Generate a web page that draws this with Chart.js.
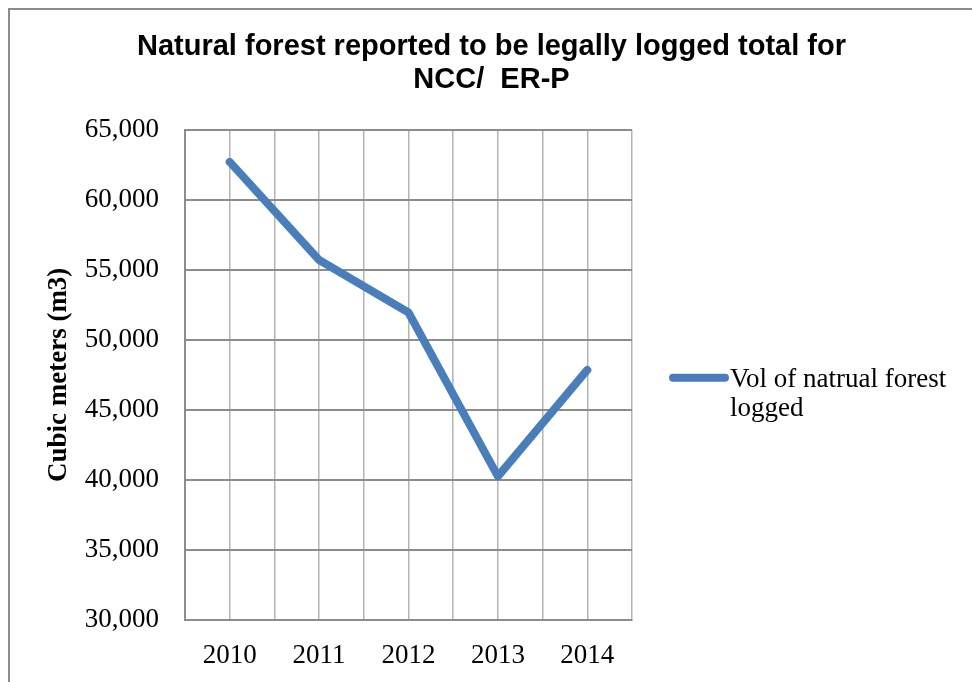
<!DOCTYPE html>
<html>
<head>
<meta charset="utf-8">
<script src="https://cdn.jsdelivr.net/npm/chart.js@4.4.1/dist/chart.umd.min.js"></script>
<style>
  html, body { margin: 0; padding: 0; background: #fff; overflow: hidden; }
  #frame {
    position: absolute; left: 8px; top: 8px;
    border-left: 2px solid #8c8c8c; border-top: 2px solid #8c8c8c;
    width: 963px; height: 672px;
  }
  #wrap { position: relative; width: 963px; height: 672px; }
</style>
</head>
<body>
<div id="frame"><div id="wrap"><canvas id="logged"></canvas></div></div>
<script>
// Natural forest logged, cubic meters per year
const years = [2010, 2011, 2012, 2013, 2014];
const volumes = [62700, 55700, 51950, 40250, 47850];
const yTicks = [30000, 35000, 40000, 45000, 50000, 55000, 60000, 65000];

const lineBlue = '#4a7ebb';
const darkGrid = '#8c8c8c';
const lightGrid = '#b4b4b4';

// legend drawn to the right of the plot, wrapping the label like Excel does
const sideLegend = {
  id: 'sideLegend',
  afterDraw(chart) {
    const ctx = chart.ctx;
    const area = chart.chartArea;
    const ds = chart.data.datasets[0];
    ctx.save();
    ctx.font = '27px "Liberation Serif"';
    // wrap the label
    const words = ds.label.split(' ');
    const lines = [];
    let cur = '';
    words.forEach(w => {
      const t = cur ? cur + ' ' + w : w;
      if (ctx.measureText(t).width > 240 && cur) { lines.push(cur); cur = w; }
      else cur = t;
    });
    if (cur) lines.push(cur);

    const x0 = area.right + 41;
    const yMid = (area.top + area.bottom) / 2 + 3;
    ctx.strokeStyle = ds.borderColor;
    ctx.lineWidth = 8;
    ctx.lineCap = 'round';
    ctx.beginPath();
    ctx.moveTo(x0, yMid);
    ctx.lineTo(x0 + 52, yMid);
    ctx.stroke();

    ctx.fillStyle = '#000';
    ctx.textBaseline = 'alphabetic';
    lines.forEach((l, i) => ctx.fillText(l, x0 + 57, yMid + 9 + i * 29));
    ctx.restore();
  }
};

new Chart('logged', {
  type: 'line',
  data: {
    datasets: [{
      label: 'Vol of natrual forest logged',
      data: years.map((y, i) => ({ x: y, y: volumes[i] })),
      borderColor: lineBlue,
      backgroundColor: lineBlue,
      borderWidth: 8,
      borderCapStyle: 'round',
      borderJoinStyle: 'round',
      pointRadius: 0,
      tension: 0
    }]
  },
  options: {
    responsive: true,
    maintainAspectRatio: false,
    animation: false,
    layout: { padding: 0 },
    plugins: {
      legend: { display: false },
      tooltip: { enabled: false },
      title: {
        display: true,
        text: ['Natural forest reported to be legally logged total for', 'NCC/  ER-P'],
        color: '#000',
        font: { family: '"Liberation Sans"', size: 29, weight: 'bold', lineHeight: 1.15 },
        padding: { top: 20, bottom: 33 }
      }
    },
    scales: {
      x: {
        type: 'linear',
        min: 2009.5,
        max: 2014.5,
        afterFit: s => { s.height = 62; },
        grid: { color: lightGrid, lineWidth: 1.5, drawTicks: false },
        border: { color: darkGrid, width: 2 },
        ticks: {
          stepSize: 0.5,
          autoSkip: false,
          maxRotation: 0,
          padding: 20,
          color: '#000',
          font: { family: '"Liberation Serif"', size: 27 },
          callback: v => (years.includes(v) ? String(v) : '')
        }
      },
      y: {
        min: yTicks[0],
        max: yTicks[yTicks.length - 1],
        afterFit: s => { s.width = 175; },
        afterBuildTicks: s => { s.ticks = yTicks.map(v => ({ value: v })); },
        grid: { color: darkGrid, lineWidth: 2, drawTicks: false },
        border: { color: darkGrid, width: 2 },
        ticks: {
          padding: 26,
          color: '#000',
          font: { family: '"Liberation Serif"', size: 27 },
          callback: v => v.toLocaleString('en-US')
        },
        title: {
          display: true,
          text: 'Cubic meters (m3)',
          color: '#000',
          font: { family: '"Liberation Serif"', size: 27, weight: 'bold' },
          padding: { top: 33, bottom: 0 }
        }
      },
      // empty axis that only reserves room for the legend on the right
      side: {
        position: 'right',
        min: 0,
        max: 1,
        afterFit: s => { s.width = 341; },
        grid: { display: false },
        border: { display: false },
        ticks: { display: false }
      }
    }
  },
  plugins: [sideLegend]
});
</script>
</body>
</html>
